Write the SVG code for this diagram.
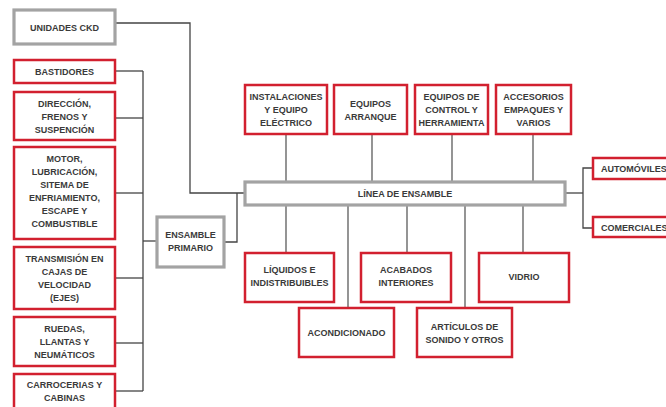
<svg xmlns="http://www.w3.org/2000/svg" width="666" height="407" viewBox="0 0 666 407">
<style>
.r{fill:#fff;stroke:#d2202f;stroke-width:2.5}
.g{fill:#fff;stroke:#a3a3a3;stroke-width:3.2}
.t{font-family:"Liberation Sans",Arial,sans-serif;font-weight:bold;font-size:9px;fill:#3a3a3a;text-anchor:middle}
.ld{fill:none;stroke:#444;stroke-width:1.3}
.lc{fill:none;stroke:#7a7a7a;stroke-width:1.6}
</style>
<rect width="666" height="407" fill="#fff"/>
<g id="connectors">
<polyline class="ld" points="116,23 190,23 190,193 245,193"/>
<line class="ld" x1="143" y1="71" x2="143" y2="391"/>
<line class="ld" x1="116" y1="71" x2="143" y2="71"/>
<line class="ld" x1="116" y1="118" x2="143" y2="118"/>
<line class="ld" x1="116" y1="193" x2="143" y2="193"/>
<line class="ld" x1="116" y1="278" x2="143" y2="278"/>
<line class="ld" x1="116" y1="343" x2="143" y2="343"/>
<line class="ld" x1="116" y1="391" x2="143" y2="391"/>
<line class="ld" x1="143" y1="241" x2="157" y2="241"/>
<polyline class="ld" points="224,242 237,242 237,193"/>
<line class="lc" x1="286" y1="134" x2="286" y2="182"/>
<line class="lc" x1="372" y1="134" x2="372" y2="182"/>
<line class="lc" x1="452" y1="134" x2="452" y2="182"/>
<line class="lc" x1="533" y1="134" x2="533" y2="182"/>
<line class="lc" x1="286" y1="205" x2="286" y2="253"/>
<line class="lc" x1="348" y1="205" x2="348" y2="308"/>
<line class="lc" x1="407" y1="205" x2="407" y2="253"/>
<line class="lc" x1="465" y1="205" x2="465" y2="308"/>
<line class="lc" x1="523" y1="205" x2="523" y2="253"/>
<line class="ld" x1="565" y1="193" x2="583" y2="193"/>
<polyline class="ld" points="593,168 583,168 583,228 593,228"/>
</g>
<g id="ckd"><rect class="g" x="14" y="10" width="101" height="34"/><text class="t" x="64.5" y="31">UNIDADES CKD</text></g>
<g id="bastidores"><rect class="r" x="14" y="60" width="101" height="23"/><text class="t" x="64.5" y="75.3">BASTIDORES</text></g>
<g id="direccion"><rect class="r" x="14" y="92" width="101" height="48"/><text class="t" x="64.5" y="106.5">DIRECCIÓN,</text><text class="t" x="64.5" y="119.5">FRENOS Y</text><text class="t" x="64.5" y="132.5">SUSPENCIÓN</text></g>
<g id="motor"><rect class="r" x="14" y="147" width="101" height="92"/><text class="t" x="64.5" y="162.3">MOTOR,</text><text class="t" x="64.5" y="175.3">LUBRICACIÓN,</text><text class="t" x="64.5" y="188.3">SITEMA DE</text><text class="t" x="64.5" y="201.3">ENFRIAMIENTO,</text><text class="t" x="64.5" y="214.3">ESCAPE Y</text><text class="t" x="64.5" y="227.3">COMBUSTIBLE</text></g>
<g id="transmision"><rect class="r" x="14" y="247" width="101" height="62"/><text class="t" x="64.5" y="261.5">TRANSMISIÓN EN</text><text class="t" x="64.5" y="274.8">CAJAS DE</text><text class="t" x="64.5" y="288.1">VELOCIDAD</text><text class="t" x="64.5" y="301.4">(EJES)</text></g>
<g id="ruedas"><rect class="r" x="14" y="317" width="101" height="49"/><text class="t" x="64.5" y="332.3">RUEDAS,</text><text class="t" x="64.5" y="345.3">LLANTAS Y</text><text class="t" x="64.5" y="358.3">NEUMÁTICOS</text></g>
<g id="carrocerias"><rect class="r" x="14" y="374" width="101" height="40"/><text class="t" x="64.5" y="388.3">CARROCERIAS Y</text><text class="t" x="64.5" y="401.3">CABINAS</text></g>
<g id="ensamble-primario"><rect class="g" x="157" y="217" width="67" height="50"/><text class="t" x="190.5" y="238.3">ENSAMBLE</text><text class="t" x="190.5" y="251.3">PRIMARIO</text></g>
<g id="linea"><rect class="g" x="245" y="182" width="320" height="23"/><text class="t" x="405" y="196.5">LÍNEA DE ENSAMBLE</text></g>
<g id="instalaciones"><rect class="r" x="245" y="85" width="82" height="49"/><text class="t" x="286" y="100.3">INSTALACIONES</text><text class="t" x="286" y="113.3">Y EQUIPO</text><text class="t" x="286" y="126.3">ELÉCTRICO</text></g>
<g id="arranque"><rect class="r" x="334" y="85" width="73" height="49"/><text class="t" x="370.5" y="107.3">EQUIPOS</text><text class="t" x="370.5" y="120.3">ARRANQUE</text></g>
<g id="control"><rect class="r" x="415" y="85" width="73" height="49"/><text class="t" x="451.5" y="100.3">EQUIPOS DE</text><text class="t" x="451.5" y="113.3">CONTROL Y</text><text class="t" x="451.5" y="126.3">HERRAMIENTA</text></g>
<g id="accesorios"><rect class="r" x="496" y="85" width="75" height="49"/><text class="t" x="533.5" y="100.3">ACCESORIOS</text><text class="t" x="533.5" y="113.3">EMPAQUES Y</text><text class="t" x="533.5" y="126.3">VARIOS</text></g>
<g id="liquidos"><rect class="r" x="245" y="253" width="89" height="49"/><text class="t" x="289.5" y="273.3">LÍQUIDOS E</text><text class="t" x="289.5" y="286.3">INDISTRIBUIBLES</text></g>
<g id="acondicionado"><rect class="r" x="299" y="308" width="95" height="49"/><text class="t" x="346.5" y="336.3">ACONDICIONADO</text></g>
<g id="acabados"><rect class="r" x="361" y="253" width="90" height="49"/><text class="t" x="406" y="273.3">ACABADOS</text><text class="t" x="406" y="286.3">INTERIORES</text></g>
<g id="articulos"><rect class="r" x="417" y="308" width="95" height="49"/><text class="t" x="464.5" y="330.3">ARTÍCULOS DE</text><text class="t" x="464.5" y="343.3">SONIDO Y OTROS</text></g>
<g id="vidrio"><rect class="r" x="479" y="253" width="90" height="49"/><text class="t" x="524" y="280.3">VIDRIO</text></g>
<g id="automoviles"><rect class="r" x="593" y="158" width="90" height="21"/><text class="t" x="601" y="172.3" style="text-anchor:start">AUTOMÓVILES</text></g>
<g id="comerciales"><rect class="r" x="593" y="217" width="90" height="20"/><text class="t" x="601" y="230.8" style="text-anchor:start">COMERCIALES</text></g>
</svg>
